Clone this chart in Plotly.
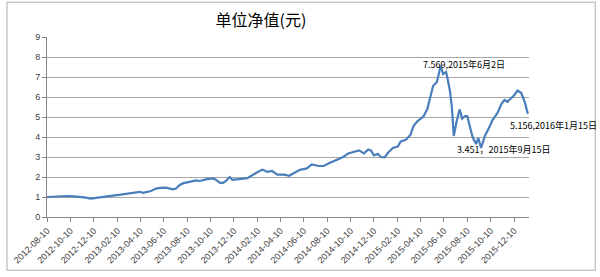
import plotly.graph_objects as go
import pandas as pd

dates = [
    "2012-08-10", "2012-08-29", "2012-09-16", "2012-10-02", "2012-10-19", "2012-11-02",
    "2012-11-15", "2012-12-02", "2012-12-18", "2012-12-28", "2013-01-23", "2013-02-18",
    "2013-03-05", "2013-03-22", "2013-04-09", "2013-04-17", "2013-04-30", "2013-05-08",
    "2013-05-21", "2013-05-31", "2013-06-16", "2013-06-26", "2013-07-04", "2013-07-12",
    "2013-07-22", "2013-07-30", "2013-08-17", "2013-09-02", "2013-09-12", "2013-09-28",
    "2013-10-16", "2013-10-23", "2013-11-03", "2013-11-11", "2013-11-18", "2013-11-29",
    "2013-12-06", "2013-12-24", "2014-01-14", "2014-02-01", "2014-02-12", "2014-02-22",
    "2014-03-07", "2014-03-20", "2014-04-02", "2014-04-20", "2014-05-03", "2014-05-16",
    "2014-05-31", "2014-06-18", "2014-07-01", "2014-07-19", "2014-08-01", "2014-08-16",
    "2014-09-03", "2014-09-21", "2014-10-04", "2014-10-19", "2014-11-01", "2014-11-14",
    "2014-11-25", "2014-12-02", "2014-12-10", "2014-12-20", "2014-12-28", "2015-01-07",
    "2015-01-15", "2015-01-28", "2015-02-10", "2015-02-18", "2015-03-03", "2015-03-15",
    "2015-03-23", "2015-04-02", "2015-04-10", "2015-04-18", "2015-04-28", "2015-05-06",
    "2015-05-13", "2015-05-23", "2015-06-02", "2015-06-08", "2015-06-16", "2015-06-21",
    "2015-06-26", "2015-07-01", "2015-07-06", "2015-07-13", "2015-07-21", "2015-07-28",
    "2015-08-05", "2015-08-10", "2015-08-17", "2015-08-24", "2015-09-02", "2015-09-08",
    "2015-09-15", "2015-09-20", "2015-09-25", "2015-10-08", "2015-10-15", "2015-10-28",
    "2015-11-07", "2015-11-15", "2015-11-23", "2015-12-03", "2015-12-11", "2015-12-19",
    "2015-12-29", "2016-01-07", "2016-01-15",
]
nav = [
    1.00, 1.03, 1.04, 1.05, 1.03, 1.02,
    0.98, 0.92, 0.97, 1.00, 1.06, 1.12,
    1.17, 1.20, 1.26, 1.21, 1.25, 1.30,
    1.42, 1.46, 1.47, 1.44, 1.38, 1.42,
    1.60, 1.68, 1.75, 1.83, 1.80, 1.88,
    1.93, 1.88, 1.72, 1.70, 1.78, 2.00,
    1.86, 1.88, 1.94, 2.15, 2.28, 2.37,
    2.26, 2.30, 2.12, 2.12, 2.06, 2.18,
    2.36, 2.43, 2.63, 2.55, 2.55, 2.70,
    2.84, 3.00, 3.18, 3.26, 3.33, 3.18,
    3.38, 3.33, 3.08, 3.16, 3.00, 2.98,
    3.20, 3.45, 3.52, 3.78, 3.86, 4.10,
    4.55, 4.78, 4.92, 5.02, 5.40, 6.05,
    6.55, 6.75, 7.569, 7.15, 7.25, 6.80,
    6.30, 5.50, 4.05, 4.75, 5.38, 4.92,
    5.05, 5.05, 4.50, 4.00, 3.65, 3.95,
    3.451, 3.75, 4.05, 4.55, 4.85, 5.20,
    5.65, 5.85, 5.76, 5.95, 6.10, 6.32,
    6.20, 5.75, 5.156,
]
tick_labels = [
    "2012-08-10", "2012-10-10", "2012-12-10", "2013-02-10", "2013-04-10", "2013-06-10",
    "2013-08-10", "2013-10-10", "2013-12-10", "2014-02-10", "2014-04-10", "2014-06-10",
    "2014-08-10", "2014-10-10", "2014-12-10", "2015-02-10", "2015-04-10", "2015-06-10",
    "2015-08-10", "2015-10-10", "2015-12-10",
]
notes = [
    ("2015-06-02", 7.569, "7.569,2015年6月2日", -20, 1),
    ("2015-09-15", 3.451, "3.451，2015年9月15日", -26, -2),
    ("2016-01-15", 5.156, "5.156,2016年1月15日", -20, -12),
]

fig = go.Figure()
fig.add_trace(go.Scatter(x=pd.to_datetime(dates), y=nav, mode="lines",
                         line=dict(color="#4A7EBB", width=2.2), showlegend=False))

for d, v, t, xs, ys in notes:
    fig.add_annotation(x=d, y=v, text=t, showarrow=False, xanchor="left", yanchor="middle",
                       xshift=xs, yshift=ys,
                       font=dict(family="Noto Sans CJK SC", size=9, color="#000000"))

fig.update_layout(
    width=600, height=277,
    margin=dict(l=43, r=71, t=37, b=56),
    paper_bgcolor="white", plot_bgcolor="white",
    title=dict(text="单位净值(元)", x=0.435, xanchor="center", y=0.928, yanchor="middle",
               font=dict(family="Noto Sans CJK SC", size=16, color="#000000")),
    xaxis=dict(type="date", range=["2012-08-10", "2016-01-18"],
               tickmode="array", tickvals=tick_labels, ticktext=tick_labels,
               tickangle=-45, ticks="outside", ticklen=4, tickcolor="#868686",
               showline=True, linecolor="#868686", linewidth=1, showgrid=False,
               tickfont=dict(family="Liberation Sans", size=9, color="#404040")),
    yaxis=dict(range=[0, 9], dtick=1, ticks="outside", ticklen=4, tickcolor="#868686",
               showline=True, linecolor="#868686", linewidth=1,
               showgrid=True, gridcolor="#A6A6A6", gridwidth=1, zeroline=False,
               tickfont=dict(family="Liberation Sans", size=9, color="#404040")),
    shapes=[dict(type="rect", xref="paper", yref="paper", x0=-0.083, x1=1.1375,
                 y0=-0.296, y1=1.193, line=dict(color="#C8C8C8", width=1.5),
                 fillcolor="rgba(0,0,0,0)", layer="below")],
)

fig.write_html("out.html")
